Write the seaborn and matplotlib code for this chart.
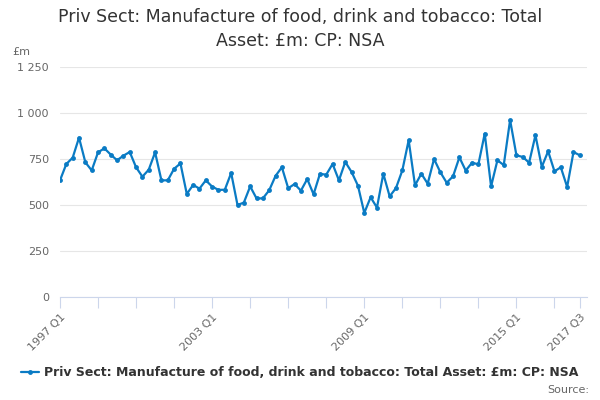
import numpy as np
import pandas as pd
import matplotlib
matplotlib.use("Agg")
import matplotlib.pyplot as plt
import seaborn as sns
from matplotlib.ticker import FuncFormatter

# -------------------------
# Data (quarterly, 1997 Q1 .. 2017 Q3)
# -------------------------
values = [
    634, 723, 757, 866, 732, 688, 786, 808, 774, 743, 768, 788,
    705, 654, 692, 786, 634, 634, 697, 726, 560, 609, 589, 634,
    600, 582, 583, 674, 500, 513, 601, 536, 536, 580, 658, 705,
    591, 614, 578, 641, 558, 669, 665, 723, 634, 734, 679, 605,
    457, 542, 486, 670, 547, 592, 688, 852, 607, 670, 616, 750,
    678, 621, 656, 759, 687, 730, 721, 888, 601, 743, 717, 962,
    770, 761, 730, 879, 707, 792, 683, 705, 598, 788, 770,
]
start_year = 1997
quarters = [f"{start_year + i // 4} Q{i % 4 + 1}" for i in range(len(values))]
label_quarters = ["1997 Q1", "2003 Q1", "2009 Q1", "2015 Q1", "2017 Q3"]
y_ticks = [0, 250, 500, 750, 1000, 1250]

series_name = "Priv Sect: Manufacture of food, drink and tobacco: Total Asset: £m: CP: NSA"
title = "Priv Sect: Manufacture of food, drink and tobacco: Total\nAsset: £m: CP: NSA"

df = pd.DataFrame({"pos": np.arange(len(values)), "quarter": quarters, "value": values})

# -------------------------
# Plot
# -------------------------
sns.set_theme(style="white")
plt.rcParams["font.family"] = ["DejaVu Sans"]

fig = plt.figure(figsize=(6, 4), dpi=100)
ax = fig.add_axes([0.1, 0.2575, 0.878, 0.575])

blue = "#0a7bc4"
sns.lineplot(data=df, x="pos", y="value", ax=ax, color=blue, linewidth=1.6,
             marker="o", markersize=3.5, markeredgewidth=0, label=series_name)

ax.set_ylim(0, 1250)
ax.set_xlim(0, len(values) + 0.1)
ax.set_yticks(y_ticks)
ax.yaxis.set_major_formatter(FuncFormatter(lambda v, p: f"{int(v):,}".replace(",", " ")))
ax.grid(axis="y", color="#e6e6e6", linewidth=0.8)
ax.set_axisbelow(True)

# x ticks every 6 quarters plus the last, labels only on a few
tick_pos = list(range(0, len(values), 6)) + [len(values) - 1]
ax.set_xticks(tick_pos)
ax.set_xticklabels([quarters[p] if quarters[p] in label_quarters else "" for p in tick_pos],
                   rotation=45, ha="right", rotation_mode="anchor")

ax.tick_params(axis="x", length=8, width=0.8, color="#ccd6eb", labelsize=8,
               labelcolor="#666666", pad=3, bottom=True)
ax.tick_params(axis="y", length=0, labelsize=8, labelcolor="#666666", pad=8)

for s in ["top", "right", "left"]:
    ax.spines[s].set_visible(False)
ax.spines["bottom"].set_color("#ccd6eb")
ax.spines["bottom"].set_linewidth(0.8)

ax.set_xlabel("")
ax.set_ylabel("")

fig.text(0.5, 0.98, title, ha="center", va="top", fontsize=12.5,
         color="#333333", linespacing=1.4)
fig.text(0.02, 0.87, "£m", ha="left", va="center", fontsize=8, color="#666666")
fig.text(0.982, 0.025, "Source:", ha="right", va="center", fontsize=8, color="#666666")

leg = ax.legend(loc="center", bbox_to_anchor=(0.455, -0.33), frameon=False,
                handlelength=1.4, handletextpad=0.4, borderaxespad=0,
                prop={"size": 9, "weight": "bold"})
for t in leg.get_texts():
    t.set_color("#333333")

fig.savefig("out.png", dpi=100)
